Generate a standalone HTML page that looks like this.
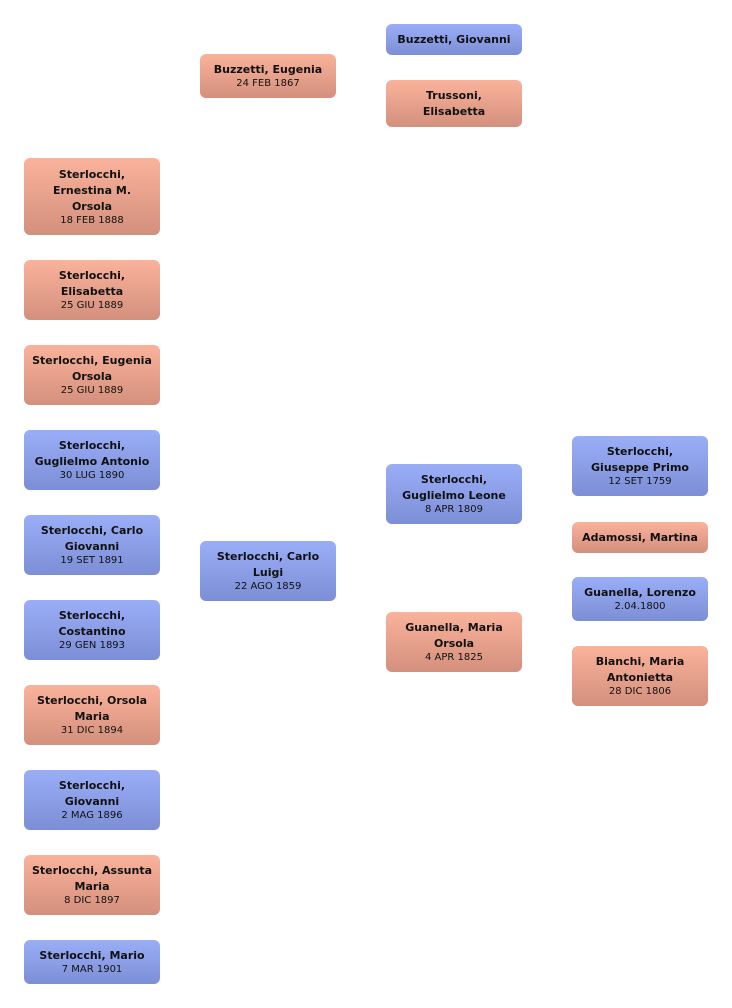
<!DOCTYPE html>
<html><head><meta charset="utf-8"><style>
body{margin:0;width:732px;height:1008px;background:#fff;position:relative;font-family:"DejaVu Sans","Liberation Sans",sans-serif;}
.b{position:absolute;width:136px;border-radius:6px;display:flex;flex-direction:column;justify-content:center;align-items:center;text-align:center;color:#111;box-sizing:border-box;padding:0 4px;}
.p{background:linear-gradient(#fab29b,#d3907d);}
.u{background:linear-gradient(#9aaef8,#7c8ed5);}
.n{font-weight:bold;font-size:11px;line-height:16px;}
.d{font-size:10px;line-height:12px;}
</style></head><body>
<div class="b p" style="left:24px;top:158px;height:77px"><div class="n">Sterlocchi,<br>Ernestina M.<br>Orsola</div><div class="d">18 FEB 1888</div></div>
<div class="b p" style="left:24px;top:260px;height:60px"><div class="n">Sterlocchi,<br>Elisabetta</div><div class="d">25 GIU 1889</div></div>
<div class="b p" style="left:24px;top:345px;height:60px"><div class="n">Sterlocchi, Eugenia<br>Orsola</div><div class="d">25 GIU 1889</div></div>
<div class="b u" style="left:24px;top:430px;height:60px"><div class="n">Sterlocchi,<br>Guglielmo Antonio</div><div class="d">30 LUG 1890</div></div>
<div class="b u" style="left:24px;top:515px;height:60px"><div class="n">Sterlocchi, Carlo<br>Giovanni</div><div class="d">19 SET 1891</div></div>
<div class="b u" style="left:24px;top:600px;height:60px"><div class="n">Sterlocchi,<br>Costantino</div><div class="d">29 GEN 1893</div></div>
<div class="b p" style="left:24px;top:685px;height:60px"><div class="n">Sterlocchi, Orsola<br>Maria</div><div class="d">31 DIC 1894</div></div>
<div class="b u" style="left:24px;top:770px;height:60px"><div class="n">Sterlocchi,<br>Giovanni</div><div class="d">2 MAG 1896</div></div>
<div class="b p" style="left:24px;top:855px;height:60px"><div class="n">Sterlocchi, Assunta<br>Maria</div><div class="d">8 DIC 1897</div></div>
<div class="b u" style="left:24px;top:940px;height:44px"><div class="n">Sterlocchi, Mario</div><div class="d">7 MAR 1901</div></div>

<div class="b p" style="left:200px;top:54px;height:44px"><div class="n">Buzzetti, Eugenia</div><div class="d">24 FEB 1867</div></div>
<div class="b u" style="left:200px;top:541px;height:60px"><div class="n">Sterlocchi, Carlo<br>Luigi</div><div class="d">22 AGO 1859</div></div>

<div class="b u" style="left:386px;top:24px;height:31px"><div class="n">Buzzetti, Giovanni</div></div>
<div class="b p" style="left:386px;top:80px;height:47px"><div class="n">Trussoni,<br>Elisabetta</div></div>
<div class="b u" style="left:386px;top:464px;height:60px"><div class="n">Sterlocchi,<br>Guglielmo Leone</div><div class="d">8 APR 1809</div></div>
<div class="b p" style="left:386px;top:612px;height:60px"><div class="n">Guanella, Maria<br>Orsola</div><div class="d">4 APR 1825</div></div>

<div class="b u" style="left:572px;top:436px;height:60px"><div class="n">Sterlocchi,<br>Giuseppe Primo</div><div class="d">12 SET 1759</div></div>
<div class="b p" style="left:572px;top:522px;height:31px"><div class="n">Adamossi, Martina</div></div>
<div class="b u" style="left:572px;top:577px;height:44px"><div class="n">Guanella, Lorenzo</div><div class="d">2.04.1800</div></div>
<div class="b p" style="left:572px;top:646px;height:60px"><div class="n">Bianchi, Maria<br>Antonietta</div><div class="d">28 DIC 1806</div></div>
</body></html>
